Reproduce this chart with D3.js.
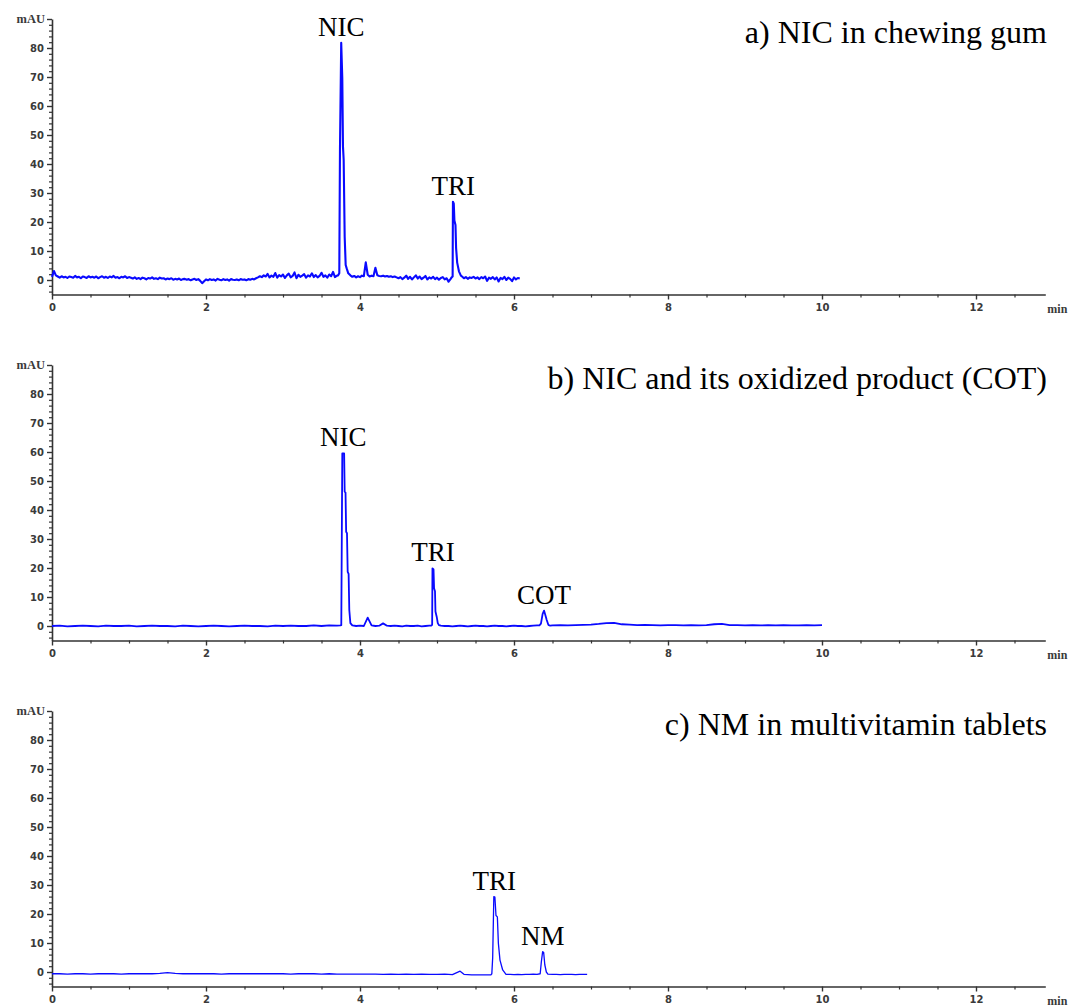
<!DOCTYPE html>
<html>
<head>
<meta charset="utf-8">
<script src="https://cdn.jsdelivr.net/npm/d3@7"></script>
<style>
  body { margin: 0; background: #fff; }
  svg { display: block; }
</style>
</head>
<body>
<script>
// ---- Chromatogram data (retention time in min, absorbance in mAU) ----

const panelTitles = [
  "a) NIC in chewing gum",
  "b) NIC and its oxidized product (COT)",
  "c) NM in multivitamin tablets"
];

const yMajorTicks = [0, 10, 20, 30, 40, 50, 60, 70, 80];
const yUnitLabel = "mAU";
const xMajorTicks = [0, 2, 4, 6, 8, 10, 12];
const xUnitLabel = "min";

// Panel a: equally spaced detector samples plus densely sampled peaks
const runA1 = { t0: 0, dt: 0.025, v: [
  1.1, 3.1, 1.6, 1.2, 0.8, 1.3, 0.9, 1.1, 0.7, 1.2,
  1.0, 0.8, 1.4, 0.9, 1.1, 0.6, 1.2, 1.0, 0.7, 1.3,
  0.9, 1.1, 0.8, 1.2, 0.6, 1.0, 1.3, 0.8, 1.1, 0.7,
  1.2, 0.9, 1.4, 0.8, 1.0, 0.6, 1.1, 0.9, 1.3, 0.7,
  1.0, 0.8, 0.5, 0.9, 0.4, 0.7, 0.3, 0.8, 0.6, 0.2,
  0.7, 0.5, 0.9, 0.4, 0.6, 0.3, 0.8, 0.5, 0.6, 0.2,
  0.5, 0.3, 0.6, 0.1, 0.4, 0.2, 0.5, 0.0, 0.3, 0.4,
  0.1, 0.3, -0.1, 0.2, 0.4, 0.0, 0.3, -0.3, -1.1, -0.4,
  0.2, -0.1, 0.3, 0.0, 0.2, -0.2, 0.4, 0.1, -0.1, 0.3,
  0.0, 0.2, -0.2, 0.3, 0.1, 0.0, 0.2, -0.1, 0.3, 0.1,
  0.2, -0.1, 0.3, 0.1, 0.4, 0.2, 0.6, 0.9, 1.3, 1.0,
  1.6, 1.2, 2.1, 0.9, 1.5, 1.1, 2.4, 0.8, 1.7, 1.2,
  1.9, 0.7, 1.6, 2.2, 0.9, 1.4, 2.6, 0.6, 1.8, 1.1,
  1.5, 2.0, 0.8, 1.6, 1.2, 2.3, 1.0, 1.7, 0.9, 1.4,
  2.5, 1.1, 1.6, 0.8, 1.9, 1.3, 2.8, 1.0, 1.5
]};
const peakA_NIC = [
  [3.715, 1.6], [3.731, 2.3], [3.740, 45.4], [3.756, 81.8], [3.770, 69.5],
  [3.779, 46.0], [3.788, 41.4], [3.801, 14.9], [3.814, 5.2], [3.827, 4.0], [3.848, 2.3]
];
const runA2 = { t0: 3.875, dt: 0.025, v: [
  1.6, 1.1, 1.4, 0.9, 1.3, 1.0, 1.5, 1.3, 6.1, 1.8,
  1.2, 1.5, 1.3, 4.2, 1.6, 1.4, 1.3, 1.5, 1.2, 1.4,
  1.1, 1.3, 1.0, 1.2, 0.9, 0.6, 1.0, 0.3, 0.8, 1.5,
  0.4, 1.1, 0.2, 0.9, 1.6, 0.5, 1.2, 0.3, 0.8, 1.4,
  0.2, 0.9, 0.5, 1.1, 0.3, 0.8, 0.1, 0.7, 1.0, 0.2,
  0.6, -0.6, 0.3
]};
const peakA_TRI = [
  [5.190, 0.9], [5.203, 1.2], [5.207, 27.0], [5.218, 26.3], [5.226, 20.5],
  [5.240, 19.0], [5.248, 11.0], [5.262, 6.0], [5.285, 3.0], [5.310, 1.5]
];
const runA3 = { t0: 5.325, dt: 0.025, v: [
  1.2, 0.6, 1.0, 0.4, 0.9, 0.7, 1.1, 0.5, 0.9, 0.3,
  1.0, 0.6, 1.2, -0.3, 0.8, 0.4, 1.0, 0.2, 0.9, -0.5,
  0.7, 0.3, 1.1, 0.0, 0.8, 0.4, -0.4, 0.9, 0.2, 0.7, 0.5
]};

// Panel b
const runB1 = { t0: 0, dt: 0.1, v: [
  0.0, 0.1, -0.1, 0.0, 0.1, 0.0, -0.1, 0.1, 0.0, 0.0,
  0.1, -0.1, 0.0, 0.1, 0.0, 0.0, -0.1, 0.1, 0.0, -0.1,
  0.0, 0.1, 0.0, -0.1, 0.0, 0.1, 0.0, 0.0, -0.1, 0.1,
  0.0, 0.1, 0.0, 0.0, 0.2, 0.0, 0.2, 0.1
]};
const peakB_NIC = [
  [3.745, 0.2], [3.757, 0.3], [3.770, 59.5], [3.794, 59.5], [3.801, 46.3],
  [3.812, 46.0], [3.820, 32.5], [3.831, 32.0], [3.840, 18.7], [3.852, 18.0],
  [3.861, 5.5], [3.875, 1.0]
];
const runB2 = { t0: 3.90, dt: 0.05, v: [
  0.2, 0.0, 0.1, 0.0, 2.9, 0.2, 0.0, 0.1, 0.9, 0.1,
  0.0, 0.1, 0.0, -0.1, 0.1, 0.0, 0.0, 0.1, -0.1, 0.0, 0.1
]};
const peakB_TRI = [
  [4.925, 0.1], [4.937, 0.4], [4.941, 19.9], [4.955, 19.5], [4.962, 13.0],
  [4.974, 12.0], [4.980, 5.0], [4.996, 3.2], [5.010, 1.0], [5.025, 0.3]
];
const runB3 = { t0: 5.05, dt: 0.05, v: [
  0.1, 0.0, 0.0, -0.1, 0.0, 0.1, 0.0, -0.1, 0.0, 0.1,
  0.0, 0.0, -0.1, 0.0, 0.1, 0.0, 0.0, -0.1, 0.0, 0.1,
  0.0, 0.0, -0.1, 0.0, 0.1, 0.2
]};
const peakB_COT = [
  [6.330, 0.2], [6.350, 0.8], [6.372, 4.2], [6.390, 5.3], [6.405, 4.0],
  [6.425, 2.1], [6.446, 0.4], [6.470, 0.1]
];
const runB4 = { t0: 6.5, dt: 0.1, v: [
  0.2, 0.3, 0.2, 0.3, 0.4, 0.5, 0.7, 1.0, 1.1, 0.6,
  0.5, 0.3, 0.4, 0.3, 0.2, 0.3, 0.3, 0.2, 0.3, 0.2,
  0.3, 0.6, 0.7, 0.3, 0.3, 0.2, 0.3, 0.2, 0.3, 0.2,
  0.3, 0.2, 0.2, 0.3, 0.2, 0.3
]};

// Panel c
const runC1 = { t0: 0, dt: 0.1, v: [
  -0.6, -0.6, -0.7, -0.6, -0.6, -0.7, -0.6, -0.6, -0.6, -0.7,
  -0.6, -0.6, -0.6, -0.6, -0.5, -0.2, -0.5, -0.6, -0.6, -0.6,
  -0.6, -0.6, -0.7, -0.6, -0.6, -0.6, -0.6, -0.6, -0.6, -0.6,
  -0.6, -0.7, -0.6, -0.6, -0.6, -0.7, -0.6, -0.7, -0.7, -0.7,
  -0.7, -0.7, -0.7, -0.8, -0.7, -0.8, -0.7, -0.8, -0.7, -0.8,
  -0.8, -0.7, -0.9, 0.3
]};
const peakC_TRI = [
  [5.35, -0.8], [5.45, -1.0], [5.55, -1.0], [5.65, -1.0], [5.700, -1.0],
  [5.712, -0.6], [5.723, 4.8], [5.738, 26.0], [5.752, 25.8], [5.766, 19.5],
  [5.784, 19.0], [5.797, 9.9], [5.818, 4.1], [5.853, 0.7], [5.896, -0.8]
];
const runC2 = { t0: 5.95, dt: 0.05, v: [-0.8, -0.9, -0.8, -0.9, -0.8, -0.8, -0.7, -0.8] };
const peakC_NM = [
  [6.340, -0.6], [6.355, 3.5], [6.372, 7.0], [6.385, 6.8], [6.400, 2.5],
  [6.420, 0.0], [6.440, -0.7]
];
const runC3 = { t0: 6.50, dt: 0.05, v: [-0.8, -0.8, -0.9, -0.8, -0.8, -0.8, -0.9, -0.8, -0.8, -0.8] };

// Peak annotations: name, retention time, apex height
const labelsA = [["NIC", 3.756, 81.8], ["TRI", 5.212, 27.0]];
const labelsB = [["NIC", 3.782, 59.5], ["TRI", 4.948, 19.9], ["COT", 6.390, 5.3]];
const labelsC = [["TRI", 5.745, 26.0], ["NM", 6.375, 7.0]];

// ---- Assemble traces ----
function expandRun(run) {
  return run.v.map((v, i) => [run.t0 + i * run.dt, v]);
}
function buildTrace(parts) {
  const pts = [];
  parts.forEach(p => {
    if (Array.isArray(p)) pts.push(...p);
    else pts.push(...expandRun(p));
  });
  return pts.sort((a, b) => a[0] - b[0]);
}

const panels = [
  { title: panelTitles[0], trace: buildTrace([runA1, peakA_NIC, runA2, peakA_TRI, runA3]), labels: labelsA, lw: 2.1 },
  { title: panelTitles[1], trace: buildTrace([runB1, peakB_NIC, runB2, peakB_TRI, runB3, peakB_COT, runB4]), labels: labelsB, lw: 1.8 },
  { title: panelTitles[2], trace: buildTrace([runC1, peakC_TRI, runC2, peakC_NM, runC3]), labels: labelsC, lw: 1.3 }
];

// ---- Layout ----
const W = 1073, H = 1007;
const left = 52, right = 1045.3;
const panelStep = 346;
const zeroY = 280;        // pixel of 0 mAU in the first panel
const pxPerUnit = 2.9;

const svg = d3.select("body").append("svg").attr("width", W).attr("height", H);

const x = d3.scaleLinear().domain([0, 12.9]).range([left, right]);
const xMinor = d3.range(0.5, 12.9, 0.5).filter(v => Math.abs(v / 2 - Math.round(v / 2)) > 1e-6);
const yMinor = d3.range(-4, 90, 2).filter(v => v % 10 !== 0);

const axisColor = "#333";
const tickFont = "DejaVu Sans, sans-serif";

panels.forEach((p, i) => {
  const y0 = zeroY + i * panelStep;
  const y = d3.scaleLinear().domain([-5, 90]).range([y0 + 5 * pxPerUnit, y0 - 90 * pxPerUnit]);
  const g = svg.append("g");

  // x axis: minor then major ticks
  const xAxisY = y(-5);
  g.append("g").attr("transform", `translate(0,${xAxisY})`)
    .call(d3.axisBottom(x).tickValues(xMinor).tickSize(3).tickSizeOuter(0).tickFormat(""))
    .call(s => s.select(".domain").remove())
    .call(s => s.selectAll("line").attr("stroke", axisColor).attr("stroke-width", 1.2));
  g.append("g").attr("transform", `translate(0,${xAxisY})`)
    .call(d3.axisBottom(x).tickValues(xMajorTicks).tickSize(5).tickSizeOuter(0).tickPadding(4))
    .call(s => s.select(".domain").attr("stroke", axisColor).attr("stroke-width", 1.6))
    .call(s => s.selectAll("line").attr("stroke", axisColor).attr("stroke-width", 1.4))
    .call(s => s.selectAll("text").attr("fill", "#3a3a3a").attr("font-family", tickFont)
      .attr("font-size", 10).attr("font-weight", "bold"));
  g.append("text").attr("x", right + 2).attr("y", xAxisY + 18)
    .attr("font-family", "Liberation Serif, serif").attr("font-size", 12).attr("font-weight", "bold")
    .attr("fill", "#3a3a3a").text(xUnitLabel);

  // y axis
  g.append("g").attr("transform", `translate(${left},0)`)
    .call(d3.axisLeft(y).tickValues(yMinor).tickSize(3).tickSizeOuter(0).tickFormat(""))
    .call(s => s.select(".domain").remove())
    .call(s => s.selectAll("line").attr("stroke", axisColor).attr("stroke-width", 1.2));
  g.append("g").attr("transform", `translate(${left},0)`)
    .call(d3.axisLeft(y).tickValues(yMajorTicks.concat([90])).tickSize(5).tickSizeOuter(0).tickPadding(3)
      .tickFormat(d => d === 90 ? "" : d))
    .call(s => s.select(".domain").attr("stroke", axisColor).attr("stroke-width", 1.6))
    .call(s => s.selectAll("line").attr("stroke", axisColor).attr("stroke-width", 1.4))
    .call(s => s.selectAll("text").attr("fill", "#3a3a3a").attr("font-family", tickFont)
      .attr("font-size", 10).attr("font-weight", "bold"));
  g.append("text").attr("x", left - 7).attr("y", y(90) + 4).attr("text-anchor", "end")
    .attr("font-family", "Liberation Serif, serif").attr("font-size", 12.5).attr("font-weight", "bold")
    .attr("fill", "#3a3a3a").text(yUnitLabel);

  // trace
  const line = d3.line().x(d => x(d[0])).y(d => y(d[1]));
  g.append("path").datum(p.trace)
    .attr("d", line)
    .attr("fill", "none")
    .attr("stroke", "#0a0aff")
    .attr("stroke-width", p.lw)
    .attr("stroke-linejoin", "round");

  // peak names
  g.selectAll("text.peak").data(p.labels).join("text")
    .attr("class", "peak")
    .attr("x", d => x(d[1]))
    .attr("y", d => y(d[2]) - 7)
    .attr("text-anchor", "middle")
    .attr("font-family", "Liberation Serif, Times New Roman, serif")
    .attr("font-size", 27)
    .attr("fill", "#000")
    .text(d => d[0]);

  // panel title
  g.append("text")
    .attr("x", 1047)
    .attr("y", y0 - 237)
    .attr("text-anchor", "end")
    .attr("font-family", "Liberation Serif, Times New Roman, serif")
    .attr("font-size", 32)
    .attr("fill", "#000")
    .text(p.title);
});
</script>
</body>
</html>
